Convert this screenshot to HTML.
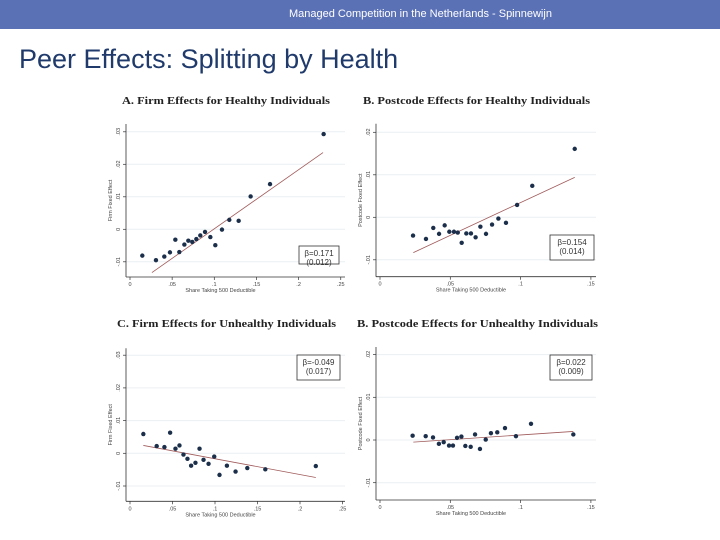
<!DOCTYPE html>
<html><head><meta charset="utf-8"><style>
body{margin:0;width:720px;height:540px;background:#fff;overflow:hidden;font-family:"Liberation Sans",sans-serif}
#hdr{position:absolute;left:0;top:0;width:720px;height:29px;background:#5b71b6;color:#fff;font-size:11px;line-height:29px}
#hdr span{position:absolute;left:289px}
#ttl{position:absolute;left:19px;top:44px;font-size:27px;color:#1f3a6b}
svg{position:absolute;left:0;top:0}
</style></head><body>
<div id="hdr"><span>Managed Competition in the Netherlands - Spinnewijn</span></div>
<div id="ttl">Peer Effects: Splitting by Health</div>
<svg id="s" width="720" height="540"></svg>
<script>
const aX=[.0146,.0308,.0407,.0474,.0538,.0585,.0645,.0692,.0739,.0787,.0834,.0890,.0953,.1012,.1091,.1178,.1289,.1431,.1661,.2297];
const aY=[-.0081,-.0095,-.0084,-.0071,-.0032,-.0070,-.0047,-.0035,-.0039,-.0030,-.0019,-.0008,-.0024,-.0049,-.0001,.0029,.0026,.0101,.0139,.0293];
const aFitX=[.026,.229];const aFitY=[-.0133,.0236];
const bX=[.0235,.0327,.0379,.0420,.0460,.0493,.0526,.0553,.0581,.0614,.0647,.0680,.0714,.0754,.0797,.0842,.0896,.0975,.1083,.1385];
const bY=[-.0043,-.0051,-.0025,-.0039,-.0019,-.0034,-.0034,-.0036,-.0060,-.0038,-.0038,-.0047,-.0022,-.0039,-.0017,-.0003,-.0013,.0029,.0074,.0161];
const bFitX=[.0237,.1385];const bFitY=[-.0083,.0094];
const cX=[.0157,.0314,.0405,.0472,.0535,.0582,.0629,.0676,.0719,.0770,.0818,.0865,.0924,.0991,.1053,.1140,.1242,.1380,.1592,.2186];
const cY=[.0059,.0022,.0019,.0063,.0014,.0024,-.0004,-.0017,-.0038,-.0029,.0014,-.0020,-.0032,-.0010,-.0066,-.0038,-.0056,-.0045,-.0049,-.0039];
const cFitX=[.0157,.2186];const cFitY=[.0024,-.0074];
const dX=[.0232,.0325,.0377,.0419,.0453,.0491,.0519,.0548,.0579,.0607,.0645,.0676,.0711,.0752,.0789,.0834,.0889,.0967,.1074,.1375];
const dY=[.0010,.0009,.0006,-.0009,-.0005,-.0013,-.0013,.0005,.0008,-.0014,-.0016,.0013,-.0021,.0001,.0016,.0018,.0028,.0009,.0038,.0013];
const dFitX=[.0237,.1375];const dFitY=[-.0005,.0020];
const xTicksWide=["0",".05",".1",".15",".2",".25"];
const xTicksNarrow=["0",".05",".1",".15"];
const yTicks=[".03",".02",".01","0","-.01"];
const yTicksB=[".02",".01","0","-.01"];
const S=document.getElementById('s');const NS='http://www.w3.org/2000/svg';
function mk(t,a,p){const e=document.createElementNS(NS,t);for(const k in a)e.setAttribute(k,a[k]);(p||S).appendChild(e);return e;}
function panel(o){
  const g=mk('g',{});
  
  
  const sx=v=>o.x0+(v-0)*o.kx, sy=v=>o.y0-v*o.ky;
  const t=mk('text',{x:o.tx,y:o.ty,'font-family':'Liberation Serif,serif','font-weight':'bold','font-size':11,fill:'#222',textLength:o.tw,lengthAdjust:'spacingAndGlyphs'},g);t.textContent=o.title;
  
  
  // grid
  o.yt.forEach(l=>{const v=parseFloat(l);const y=sy(v);
    mk('line',{x1:o.ax,x2:o.ax+o.w,y1:y,y2:y,stroke:'#eceff2','stroke-width':1},g);
    mk('line',{x1:o.ax-3,x2:o.ax,y1:y,y2:y,stroke:'#333','stroke-width':.7},g);
    const tt=mk('text',{x:o.ax-6,y:y,'font-size':5.5,fill:'#444','text-anchor':'middle',transform:`rotate(-90 ${o.ax-6} ${y})`},g);tt.textContent=l;
    
    });
  o.xt.forEach(l=>{const x=sx(parseFloat(l));
    mk('line',{x1:x,x2:x,y1:o.axy,y2:o.axy+3,stroke:'#333','stroke-width':.7},g);
    const tt=mk('text',{x:x,y:o.axy+9,'font-size':5.5,fill:'#444','text-anchor':'middle'},g);tt.textContent=l;
    
    });
  mk('line',{x1:o.ax,x2:o.ax,y1:o.axy-o.h,y2:o.axy,stroke:'#333','stroke-width':.8},g);
  mk('line',{x1:o.ax,x2:o.ax+o.w,y1:o.axy,y2:o.axy,stroke:'#333','stroke-width':.8},g);
  const yl=mk('text',{x:o.ax-14,y:o.axy-o.h/2,'font-size':5.5,fill:'#444','text-anchor':'middle',transform:`rotate(-90 ${o.ax-14} ${o.axy-o.h/2})`},g);yl.textContent=o.ylab;
  
  
  const xl=mk('text',{x:o.ax+o.w/2-15,y:o.axy+15,'font-size':5.5,fill:'#444','text-anchor':'middle'},g);xl.textContent='Share Taking 500 Deductible';
  
  
  const fl=mk('line',{x1:sx(o.fx[0]),y1:sy(o.fy[0]),x2:sx(o.fx[1]),y2:sy(o.fy[1]),stroke:'#a05a5a','stroke-width':.8},g);
  
  
  o.X.forEach((v,i)=>{const c=mk('circle',{cx:sx(v),cy:sy(o.Y[i]),r:2.2,fill:'#1c2f4a'},g);
    
    });
  const b=o.box;
  const r=mk('rect',{x:b[0],y:b[1],width:b[2],height:b[3],fill:'#fff',stroke:'#333','stroke-width':.8},g);
  
  
  const t1=mk('text',{x:b[0]+b[2]/2,y:b[1]+10,'font-size':8,fill:'#333','text-anchor':'middle'},g);t1.textContent=o.beta[0];
  
  
  const t2=mk('text',{x:b[0]+b[2]/2,y:b[1]+19,'font-size':8,fill:'#333','text-anchor':'middle'},g);t2.textContent=o.beta[1];
  
  
}
panel({name:'panel-a',title:'A. Firm Effects for Healthy Individuals',tx:122,ty:104,tw:208,x0:130,kx:843,y0:229.3,ky:3250,ax:126,axy:277,w:219,h:153,xt:xTicksWide,yt:yTicks,ylab:'Firm Fixed Effect',X:aX,Y:aY,fx:aFitX,fy:aFitY,box:[299,246,40,18],beta:['β=0.171','(0.012)']});
panel({name:'panel-b',title:'B. Postcode Effects for Healthy Individuals',tx:363,ty:104,tw:227,x0:380,kx:1406,y0:217.3,ky:4250,ax:376,axy:276.7,w:220,h:153,xt:xTicksNarrow,yt:yTicksB,ylab:'Postcode Fixed Effect',X:bX,Y:bY,fx:bFitX,fy:bFitY,box:[550,235,44,25],beta:['β=0.154','(0.014)']});
panel({name:'panel-c',title:'C. Firm Effects for Unhealthy Individuals',tx:117,ty:327,tw:219,x0:130,kx:850,y0:453.3,ky:3270,ax:126,axy:501.3,w:219,h:153,xt:xTicksWide,yt:yTicks,ylab:'Firm Fixed Effect',X:cX,Y:cY,fx:cFitX,fy:cFitY,box:[297,355,43,25],beta:['β=-0.049','(0.017)']});
panel({name:'panel-d',title:'B. Postcode Effects for Unhealthy Individuals',tx:357,ty:327,tw:241,x0:380,kx:1406,y0:440,ky:4270,ax:376,axy:500,w:220,h:153,xt:xTicksNarrow,yt:yTicksB,ylab:'Postcode Fixed Effect',X:dX,Y:dY,fx:dFitX,fy:dFitY,box:[550,355,42,25],beta:['β=0.022','(0.009)']});
</script>
</body></html>
